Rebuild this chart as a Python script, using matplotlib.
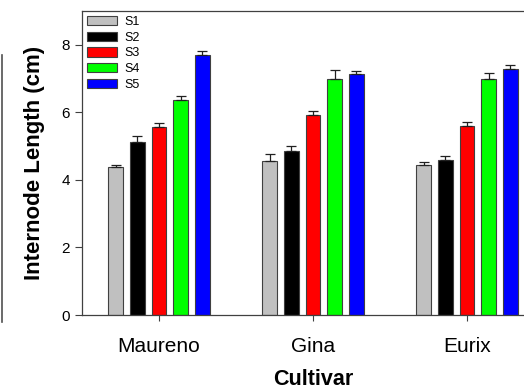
import matplotlib.pyplot as plt
import numpy as np
from matplotlib.lines import Line2D

plt.rcParams['font.family'] = ['Liberation Sans', 'DejaVu Sans']

cultivars = ['Maureno', 'Gina', 'Eurix']
series = ['S1', 'S2', 'S3', 'S4', 'S5']
s1 = [4.38, 4.57, 4.43]
s2 = [5.11, 4.84, 4.58]
s3 = [5.56, 5.93, 5.58]
s4 = [6.35, 6.98, 6.97]
s5 = [7.69, 7.12, 7.28]
e1 = [0.07, 0.19, 0.11]
e2 = [0.19, 0.16, 0.11]
e3 = [0.12, 0.10, 0.12]
e4 = [0.12, 0.27, 0.20]
e5 = [0.12, 0.09, 0.12]
colors = ['#c0c0c0', '#000000', '#ff0000', '#00ff00', '#0000ff']

values = [s1, s2, s3, s4, s5]
errors = [e1, e2, e3, e4, e5]

fig = plt.figure(figsize=(5.24, 3.9), dpi=100)
ax = fig.add_axes([0.1565, 0.1923, 0.8817, 0.780])

x = np.arange(len(cultivars))
pitch = 0.141
width = 0.097
for i in range(len(series)):
    pos = x + (i - 2) * pitch
    ax.bar(pos, values[i], width, color=colors[i], edgecolor='#404040',
           linewidth=0.8, label=series[i], zorder=2)
    ax.errorbar(pos, values[i], yerr=[np.zeros(3), errors[i]], fmt='none',
                ecolor='#202020', elinewidth=0.9, capsize=3.5, capthick=0.9,
                zorder=3)

ax.set_xlim(-0.5, 2.5)
ax.set_ylim(0, 9)
ax.set_yticks([0, 2, 4, 6, 8])
ax.set_xticks(x)
ax.set_xticklabels(cultivars, fontsize=15)
ax.tick_params(axis='y', labelsize=11, direction='out', length=5, color='#404040')
ax.tick_params(axis='x', direction='out', length=4, color='#404040', pad=12)
for sp in ax.spines.values():
    sp.set_color('#404040')
    sp.set_linewidth(0.9)

ax.set_ylabel('Internode Length (cm)', fontsize=16, fontweight='bold', labelpad=12)
ax.set_xlabel('Cultivar', fontsize=15.5, fontweight='bold', labelpad=9)

leg = ax.legend(loc='upper left', fontsize=9, frameon=False, handlelength=2.4,
                handleheight=0.75, labelspacing=0.3, handletextpad=0.6,
                borderpad=0.3, borderaxespad=0.1, bbox_to_anchor=(0.0, 1.0))

# edge of neighbouring panel at far left
fig.add_artist(Line2D([0.003, 0.003], [0.175, 0.86], color='#505050', lw=1.2))

fig.savefig('out.png', dpi=100)
